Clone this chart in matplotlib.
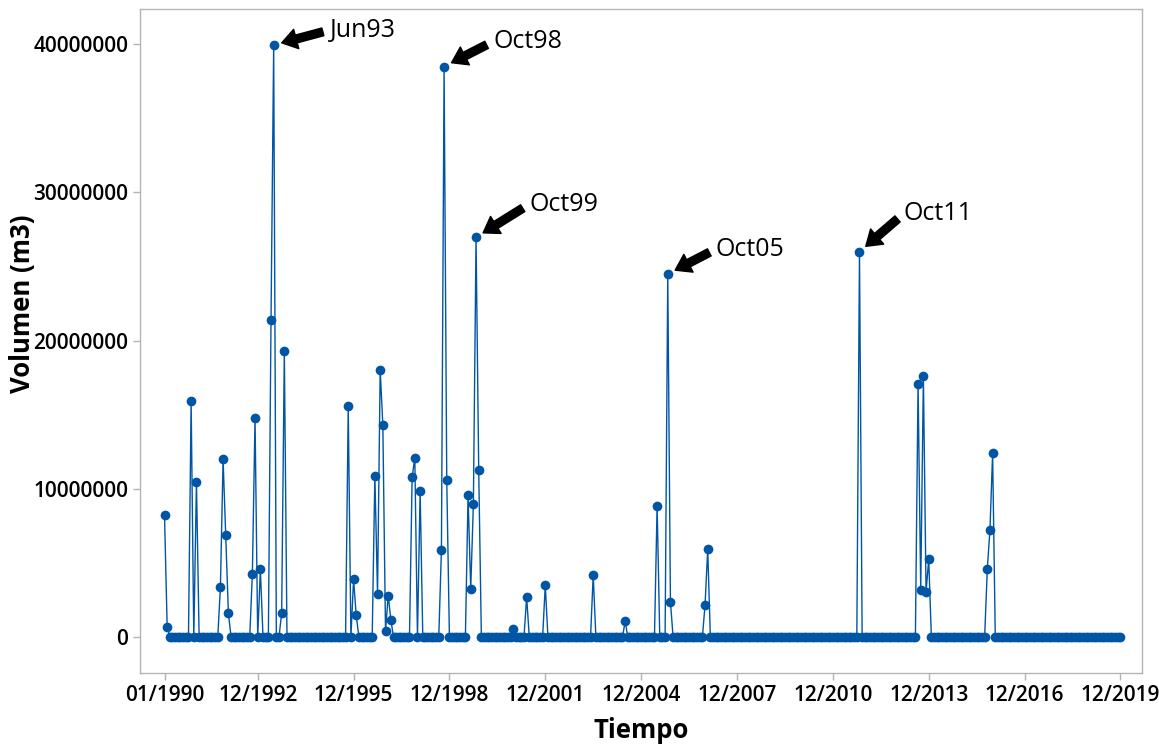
import numpy as np
import pandas as pd
import matplotlib
matplotlib.use("Agg")
import matplotlib.pyplot as plt

plt.rcParams['font.family'] = ['Open Sans', 'DejaVu Sans']

# serie mensual 01/1990 - 12/2019, casi todo 0 salvo los eventos
n_months = 360
event_idx = [0, 1, 10, 12, 21, 22, 23, 24, 33, 34, 36, 40, 41, 44, 45,
             69, 71, 72, 79, 80, 81, 82, 83, 84, 85, 93, 94, 96,
             104, 105, 106, 114, 115, 116, 117, 118, 131, 136, 143,
             161, 173, 185, 189, 190, 203, 204, 261,
             283, 284, 285, 286, 287, 309, 310, 311]
event_vol = [8.23e6, 0.7e6, 15.9e6, 10.5e6, 3.39e6, 12.0e6, 6.86e6, 1.6e6,
             4.29e6, 14.8e6, 4.58e6, 21.4e6, 39.95e6, 1.64e6, 19.3e6,
             15.6e6, 3.89e6, 1.48e6, 10.9e6, 2.94e6, 18.05e6, 14.3e6, 0.4e6,
             2.81e6, 1.19e6, 10.8e6, 12.1e6, 9.85e6,
             5.91e6, 38.5e6, 10.6e6, 9.58e6, 3.24e6, 9.0e6, 26.98e6, 11.3e6,
             0.54e6, 2.7e6, 3.5e6,
             4.18e6, 1.08e6, 8.88e6, 24.5e6, 2.4e6, 2.16e6, 5.93e6, 26.0e6,
             17.1e6, 3.2e6, 17.6e6, 3.06e6, 5.24e6, 4.58e6, 7.26e6, 12.4e6]

labels_pico = ['Jun93', 'Oct98', 'Oct99', 'Oct05', 'Oct11']
idx_pico = [41, 105, 117, 189, 261]

tick_idx = [0, 35, 71, 107, 143, 179, 215, 251, 287, 323, 359]
ytick_vals = [0, 10000000, 20000000, 30000000, 40000000]

fechas = pd.date_range('1990-01-01', periods=n_months, freq='MS')
volumen = np.zeros(n_months)
volumen[event_idx] = event_vol
x = np.arange(n_months)

azul = '#0055a5'
gris = '#b4b4b4'

fig = plt.figure(figsize=(11.59, 7.44), dpi=100)
ax = fig.add_axes([0.1208, 0.0958, 0.8643, 0.8917])

ax.plot(x, volumen, color=azul, lw=1.0, marker='o', ms=7,
        markeredgewidth=0, zorder=3)

# offsets en pixeles (dx, dy) del texto respecto al punto
offsets = [(56, 15), (49, 25), (53, 33), (48, 25), (44, 38)]
for lab, i, (dx, dy) in zip(labels_pico, idx_pico, offsets):
    ax.annotate(lab, xy=(i, volumen[i]), xytext=(dx, dy),
                textcoords='offset pixels', ha='left', va='center',
                fontsize=18,
                arrowprops=dict(arrowstyle='simple,head_length=0.6,head_width=0.8,tail_width=0.32',
                                color='black', shrinkA=3, shrinkB=6,
                                relpos=(0, 0.5)))

ax.set_xlim(-9.2, 367)
ax.set_ylim(-2.4e6, 42.36e6)

ax.set_xticks(tick_idx)
ax.set_xticklabels([fechas[i].strftime('%m/%Y') for i in tick_idx])
ax.set_yticks(ytick_vals)
ax.set_yticklabels([str(v) for v in ytick_vals])

for s in ax.spines.values():
    s.set_color(gris)
    s.set_linewidth(1.0)
ax.tick_params(axis='both', colors=gris, length=5, width=1,
               labelcolor='black', labelsize=15)
for t in ax.get_xticklabels() + ax.get_yticklabels():
    t.set_fontweight('semibold')

ax.set_xlabel('Tiempo', fontsize=18.5, fontweight='bold', labelpad=8)
ax.set_ylabel('Volumen (m3)', fontsize=18.5, fontweight='bold')
ax.yaxis.set_label_coords(-0.104, 0.556)

fig.savefig('out.png', dpi=100)
